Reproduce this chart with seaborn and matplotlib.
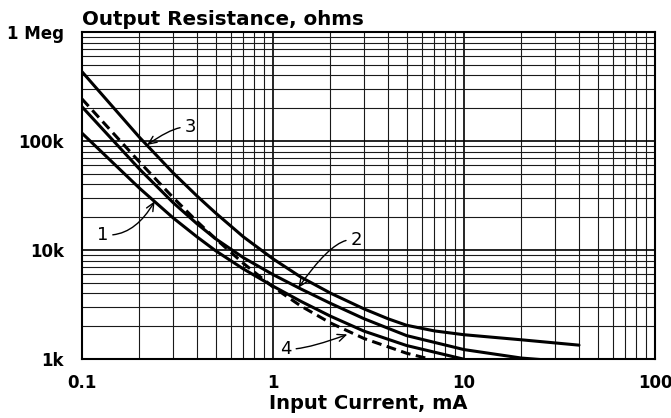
import numpy as np
import pandas as pd
import matplotlib
matplotlib.use("Agg")
import matplotlib.pyplot as plt
import seaborn as sns
from matplotlib.ticker import FixedLocator, FixedFormatter, LogLocator, NullFormatter

# Output resistance (ohms) versus input current (mA), four device curves
current_1 = [0.1, 0.2, 0.3, 0.4, 0.5, 0.7, 1.0, 1.4, 2.0, 3.0, 5.0, 10.0]
resist_1 = [118e3, 36.9e3, 19.7e3, 13.2e3, 9.86e3, 6.7e3, 4.66e3, 3.38e3, 2.47e3, 1.8e3,
            1.33e3, 0.995e3]

current_2 = [0.1, 0.2, 0.3, 0.4, 0.5, 0.7, 1.0, 1.4, 2.0, 3.0, 5.0, 10.0, 20.0, 30.0]
resist_2 = [206e3, 55.2e3, 27.2e3, 17.4e3, 12.7e3, 8.5e3, 5.95e3, 4.39e3, 3.24e3, 2.34e3,
            1.64e3, 1.22e3, 1.02e3, 0.965e3]

current_3 = [0.1, 0.2, 0.3, 0.4, 0.5, 0.7, 1.0, 1.4, 2.0, 3.0, 4.0, 5.0, 7.0, 10.0, 20.0, 40.0]
resist_3 = [432e3, 108e3, 51e3, 31.3e3, 21.9e3, 13.2e3, 8.3e3, 5.64e3, 4.02e3, 2.88e3, 2.34e3,
            2.04e3, 1.81e3, 1.67e3, 1.50e3, 1.34e3]

current_4 = [0.1, 0.2, 0.3, 0.4, 0.5, 0.7, 1.0, 1.4, 2.0, 3.0, 5.0, 6.6]
resist_4 = [243e3, 64.2e3, 30.3e3, 18.3e3, 12.7e3, 7.54e3, 4.58e3, 3.06e3, 2.14e3, 1.54e3,
            1.13e3, 1.0e3]

curve_names = ["1", "2", "3", "4"]

x_ticks = [0.1, 1, 10, 100]
x_tick_labels = ["0.1", "1", "10", "100"]
y_ticks = [1e3, 1e4, 1e5, 1e6]
y_tick_labels = ["1k", "10k", "100k", "1 Meg"]

frames = []
for name, cur, res in zip(curve_names,
                          [current_1, current_2, current_3, current_4],
                          [resist_1, resist_2, resist_3, resist_4]):
    frames.append(pd.DataFrame({"current": cur, "resistance": res, "curve": name}))
df = pd.concat(frames, ignore_index=True)

sns.set_theme(style="white")
plt.rcParams["font.family"] = ["DejaVu Sans"]
plt.rcParams["font.weight"] = "bold"
plt.rcParams["lines.dash_capstyle"] = "butt"
for key in ["text.color", "axes.labelcolor", "xtick.color", "ytick.color"]:
    plt.rcParams[key] = "black"

fig = plt.figure(figsize=(6.71, 4.18), dpi=100)
ax = fig.add_axes([82 / 671, 1 - 359 / 418, (655 - 82) / 671, (359 - 32) / 418])

sns.lineplot(data=df, x="current", y="resistance", style="curve",
             dashes={"1": "", "2": "", "3": "", "4": (3.2, 1.8)},
             color="black", linewidth=2.2, estimator=None, legend=False, ax=ax)

ax.set_xscale("log")
ax.set_yscale("log")
ax.set_xlim(0.1, 100)
ax.set_ylim(1e3, 1e6)

ax.xaxis.set_major_locator(FixedLocator(x_ticks))
ax.xaxis.set_major_formatter(FixedFormatter(x_tick_labels))
ax.yaxis.set_major_locator(FixedLocator(y_ticks))
ax.yaxis.set_major_formatter(FixedFormatter(y_tick_labels))
ax.xaxis.set_minor_locator(LogLocator(base=10, subs=np.arange(2, 10)))
ax.yaxis.set_minor_locator(LogLocator(base=10, subs=np.arange(2, 10)))
ax.xaxis.set_minor_formatter(NullFormatter())
ax.yaxis.set_minor_formatter(NullFormatter())

ax.set_axisbelow(True)
ax.grid(True, which="major", color="black", linewidth=1.2)
ax.grid(True, which="minor", color="#1a1a1a", linewidth=0.8)

ax.tick_params(which="both", length=0)
ax.tick_params(axis="y", labelsize=12, pad=13)
ax.tick_params(axis="x", labelsize=12, pad=11)
for lab in ax.get_xticklabels() + ax.get_yticklabels():
    lab.set_fontweight("bold")

for sp in ax.spines.values():
    sp.set_color("black")
    sp.set_linewidth(1.5)

ax.set_xlabel("Input Current, mA", fontsize=14, fontweight="bold", labelpad=1.5)
ax.set_ylabel("")
ax.set_title("Output Resistance, ohms", loc="left", fontsize=14.3, fontweight="bold", pad=5)

arrow = dict(arrowstyle="->,head_length=0.45,head_width=0.2", color="black", lw=1.0,
             shrinkA=1, shrinkB=0)

ax.annotate("3", xy=(0.219, 92e3), xytext=(0.345, 134e3), ha="left", va="center",
            fontsize=13, fontweight="normal",
            arrowprops=dict(arrow, relpos=(0, 0.5), connectionstyle="angle3,angleA=0,angleB=35"))
ax.annotate("1", xy=(0.24, 28e3), xytext=(0.137, 13.7e3), ha="right", va="center",
            fontsize=13, fontweight="normal",
            arrowprops=dict(arrow, relpos=(1, 0.5), connectionstyle="angle3,angleA=0,angleB=60"))
ax.annotate("2", xy=(1.357, 4.5e3), xytext=(2.55, 12.4e3), ha="left", va="center",
            fontsize=13, fontweight="normal",
            arrowprops=dict(arrow, relpos=(0, 0.5), connectionstyle="angle3,angleA=0,angleB=55"))
ax.annotate("4", xy=(2.45, 1.68e3), xytext=(1.25, 1.235e3), ha="right", va="center",
            fontsize=13, fontweight="normal",
            arrowprops=dict(arrow, relpos=(1, 0.5), connectionstyle="angle3,angleA=0,angleB=20"))

fig.savefig("out.png", dpi=100)
